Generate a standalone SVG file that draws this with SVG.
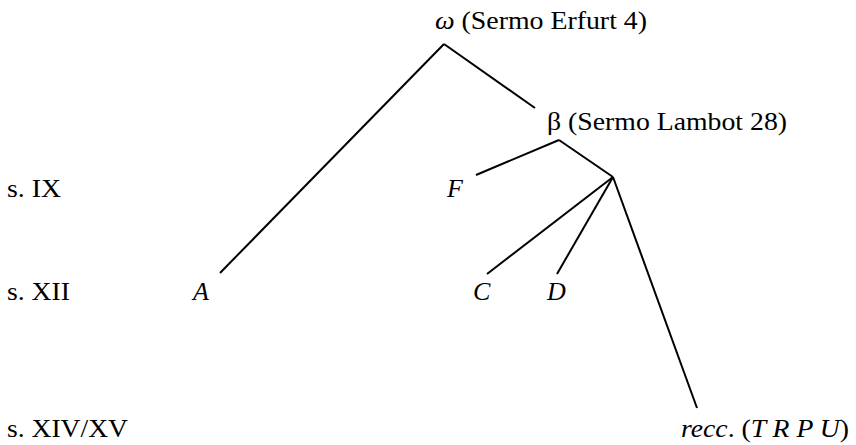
<svg xmlns="http://www.w3.org/2000/svg" width="856" height="445" viewBox="0 0 856 445">
<style>
text{font-family:"Liberation Serif","Times New Roman",serif;font-size:26px;fill:#000}
.i{font-style:italic}
line{stroke:#000;stroke-width:2;fill:none}
</style>
<rect width="856" height="445" fill="#fff"/>
<g id="connectors">
<line x1="444" y1="44" x2="220" y2="273"/>
<line x1="444" y1="44" x2="535" y2="108"/>
<line x1="559" y1="140" x2="476" y2="175"/>
<line x1="559" y1="140" x2="613" y2="177"/>
<line x1="613" y1="177" x2="487" y2="274"/>
<line x1="613" y1="177" x2="557" y2="274"/>
<line x1="613" y1="177" x2="697" y2="408"/>
</g>
<g id="labels">
<text x="7" y="197" textLength="54" lengthAdjust="spacingAndGlyphs">s. IX</text>
<text x="7" y="300" textLength="63" lengthAdjust="spacingAndGlyphs">s. XII</text>
<text x="7" y="437" textLength="121" lengthAdjust="spacingAndGlyphs">s. XIV/XV</text>
</g>
<g id="omega"><text x="435" y="29" textLength="212" lengthAdjust="spacingAndGlyphs"><tspan class="i">ω</tspan> (Sermo Erfurt 4)</text></g>
<g id="beta"><text x="547" y="130" textLength="240" lengthAdjust="spacingAndGlyphs">β (Sermo Lambot 28)</text></g>
<g id="F"><text class="i" x="447" y="197">F</text></g>
<g id="A"><text class="i" x="193" y="300">A</text></g>
<g id="C"><text class="i" x="473" y="300">C</text></g>
<g id="D"><text class="i" x="547" y="300">D</text></g>
<g id="recc"><text x="681" y="437" textLength="168" lengthAdjust="spacingAndGlyphs"><tspan class="i">recc</tspan>. (<tspan class="i">T R P U</tspan>)</text></g>
</svg>
